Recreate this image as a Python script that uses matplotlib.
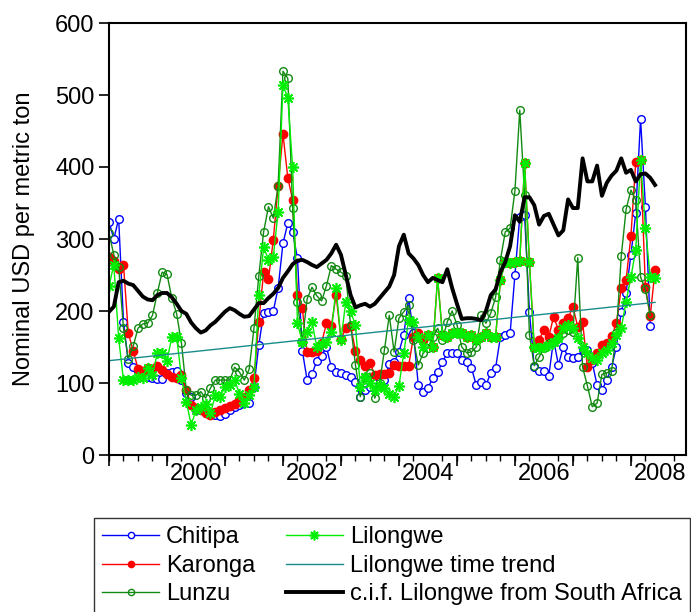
import matplotlib
matplotlib.use("Agg")
import matplotlib.pyplot as plt
import numpy as np

nan = np.nan

# monthly observations, 1999m01 .. 2008m06
start_year = 1999
n_months = 114

chitipa = [324, 300, 328, 185, 128, 122, 115, 110, 108, 107, 105, 105,
           114, 115, 117, 104, 86, 80, 62, 62, 58, 56, 55, 54,
           57, 63, 67, 70, 72, 72, 95, 153, 197, 198, 200, 232,
           294, 322, 310, 273, 145, 104, 112, 131, 138, 150, 122, 115,
           114, 111, 108, 101, 81, 90, 94, 100, 104, 104, 127, 129,
           143, 167, 218, 169, 97, 88, 93, 107, 115, 129, 142, 142,
           142, 132, 129, 121, 97, 101, 97, 114, 121, 164, 167, 169,
           250, 331, 333, 199, 122, 117, 117, 110, 160, 125, 150, 136,
           135, 136, 146, 146, 128, 97, 90, 104, 122, 150, 199, 225,
           278, 336, 467, 345, 179, nan]

karonga = [275, 270, 258, 264, 169, 145, 120, 117, 121, 118, 124, 118,
           112, 108, 107, 111, 90, 69, 65, 62, 58, 56, 60, 63,
           65, 68, 71, 76, 80, 90, 107, 185, 254, 244, 299, 374,
           446, 385, 354, 222, 204, 143, 143, 145, 156, 183, 179, 222,
           161, 176, 179, 145, 132, 124, 128, 111, 112, 112, 114, 125,
           124, 124, 124, 164, 169, 160, 167, 150, 246, 167, 164, 169,
           169, 169, 164, 167, 160, 164, 169, 164, 164, 243, 268, 267,
           268, 269, 405, 268, 150, 160, 174, 164, 192, 174, 183, 190,
           206, 178, 185, 122, 132, 142, 153, 156, 165, 183, 232, 243,
           304, 407, 410, 233, 193, 257]

lunzu = [308, 278, 261, 176, 134, 151, 176, 182, 183, 194, 225, 254,
         251, 218, 196, 155, 90, 83, 83, 88, 79, 93, 104, 104,
         104, 104, 122, 115, 104, 119, 176, 249, 310, 345, 329, 374,
         533, 523, 343, 212, 157, 217, 233, 221, 214, 235, 263, 258,
         254, 249, 180, 125, 81, 108, 114, 79, 100, 146, 194, 143,
         190, 199, 208, 160, 125, 141, 149, 164, 176, 160, 185, 200,
         181, 150, 142, 143, 150, 194, 183, 197, 219, 271, 310, 315,
         367, 479, 361, 167, 124, 136, 149, 156, 157, 162, 169, 174,
         171, 274, 122, 96, 67, 72, 112, 114, 117, 169, 276, 341,
         368, 354, 247, 230, 194, nan]

lilongwe = [235, 264, 162, 104, 104, 104, 108, 107, 121, 111, 142, 142,
            131, 164, 164, 107, 74, 42, 62, 67, 71, 58, 83, 81,
            95, 97, 104, 85, 72, 83, 95, 222, 289, 271, 275, 338,
            514, 496, 400, 183, 157, 171, 185, 150, 154, 157, 171, 232,
            160, 213, 200, 180, 95, 108, 100, 90, 97, 93, 85, 81,
            96, 142, 188, 185, 164, 150, 167, 150, 246, 167, 164, 169,
            169, 169, 164, 167, 160, 164, 169, 164, 164, 243, 268, 267,
            268, 269, 405, 268, 150, 149, 150, 153, 157, 162, 176, 180,
            176, 162, 150, 141, 135, 132, 142, 146, 155, 167, 176, 213,
            247, 285, 410, 315, 247, 246]

# linear time trend for Lilongwe: value at first and last month
lilongwe_trend = [131, 212]

cif_south_africa = [199, 206, 240, 242, 238, 236, 228, 220, 216, 215, 222, 225,
                    225, 219, 210, 200, 196, 184, 176, 170, 173, 180, 185, 192,
                    199, 204, 201, 196, 192, 193, 202, 211, 211, 218, 224, 232,
                    246, 255, 265, 270, 271, 268, 264, 261, 266, 271, 280, 292,
                    278, 250, 222, 205, 208, 210, 206, 210, 218, 226, 234, 250,
                    290, 306, 280, 273, 264, 250, 240, 246, 243, 240, 258, 232,
                    210, 189, 190, 190, 189, 187, 200, 222, 230, 254, 268, 290,
                    333, 324, 358, 358, 347, 320, 332, 335, 320, 305, 312, 355,
                    343, 343, 412, 380, 380, 402, 360, 378, 388, 395, 412, 392,
                    396, 380, 390, 391, 385, 375]

year_labels = ["2000", "2002", "2004", "2006", "2008"]

months = start_year + np.arange(n_months) / 12.0

plt.rcParams["font.family"] = ["Liberation Sans", "DejaVu Sans"]

fig = plt.figure(figsize=(6.91, 6.12), dpi=100)
ax = fig.add_axes([109 / 691, 1 - 455 / 612, (686 - 109) / 691, (455 - 23) / 612])

ax.plot(months, chitipa, color="#0000ff", lw=1.0, marker="o", ms=5.5,
        mfc="white", mec="#0000ff", mew=1.0, label="Chitipa")
ax.plot(months, karonga, color="#ff0000", lw=1.0, marker="o", ms=6,
        mfc="#ff0000", mec="#ff0000", label="Karonga")
ax.plot(months, lunzu, color="#128a12", lw=1.0, marker="o", ms=5.5,
        mfc="none", mec="#128a12", mew=1.0, label="Lunzu")
ax.plot(months, lilongwe, color="#00ee00", lw=1.0, marker=(8, 2, 0), ms=8,
        mec="#00ee00", mew=1.2, label="Lilongwe")
ax.plot([months[0], months[-1]], lilongwe_trend, color="#1a8c8c", lw=1.0,
        label="Lilongwe time trend")
ax.plot(months, cif_south_africa, color="black", lw=2.8,
        label="c.i.f. Lilongwe from South Africa")

ax.set_xlim(1999.0, 2008.95)
ax.set_ylim(0, 600)
ax.set_yticks(range(0, 601, 100))
ax.tick_params(axis="y", direction="out", length=7, width=1.2, labelsize=17)

# year labels at mid-year, year boundary ticks and quarter ticks
ax.set_xticks([int(y) + 0.5 for y in year_labels])
ax.set_xticklabels(year_labels)
ax.set_xticks(np.arange(1999, 2009, 0.25), minor=True)
ax.tick_params(axis="x", which="major", length=0, labelsize=17, pad=6)
ax.tick_params(axis="x", which="minor", direction="out", length=4, width=1.0)
sec = ax.secondary_xaxis("bottom")
sec.set_xticks(range(1999, 2009))
sec.tick_params(axis="x", direction="out", length=8, width=1.2, labelbottom=False)
sec.spines["bottom"].set_visible(False)

for sp in ax.spines.values():
    sp.set_linewidth(1.5)

ax.set_ylabel("Nominal USD per metric ton", fontsize=17, labelpad=14)

leg = fig.legend(loc="upper left", bbox_to_anchor=(94 / 691, 1 - 518 / 612),
                 ncol=2, fontsize=17, frameon=True, fancybox=False,
                 edgecolor="black", handlelength=2.4, handletextpad=0.3,
                 columnspacing=1.3, labelspacing=0.28, borderpad=0.35,
                 borderaxespad=0)
leg.get_frame().set_linewidth(1.0)
for h in leg.legend_handles:
    h.set_markersize(4.5)
leg.legend_handles[3].set_markersize(7)

fig.savefig("out.png", dpi=100)
